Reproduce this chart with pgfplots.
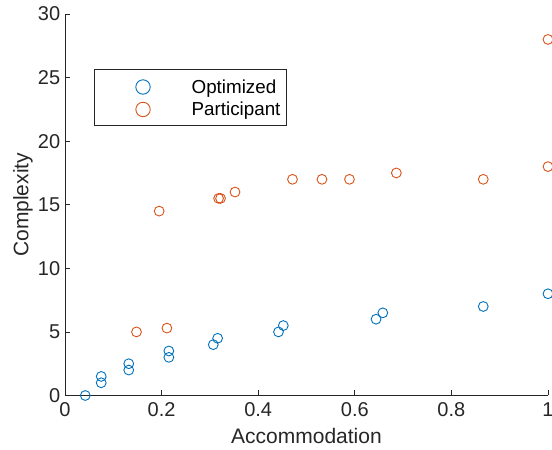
\documentclass[border=0pt]{standalone}
\usepackage{fontspec}
\setmainfont{Liberation Sans}
\usepackage{pgfplots}
\pgfplotsset{compat=1.18}
\definecolor{mblue}{RGB}{0,114,189}
\definecolor{morange}{RGB}{217,83,25}
\definecolor{axgray}{RGB}{38,38,38}
\pgfplotsset{
  mylegend/.style={legend image code/.code={%
    \path[draw=none,fill=none] (0pt,-2.35pt) rectangle (91pt,18.95pt);
    \draw[##1, line width=0.9pt, mark size=7.2pt] plot coordinates {(44.4pt,6.5pt)};}}
}
\begin{document}
\begin{tikzpicture}
\begin{axis}[
  at={(0,0)}, anchor=south west,
  scale only axis, width=483pt, height=381.5pt,
  xmin=0, xmax=1, ymin=0, ymax=30,
  axis x line*=bottom, axis y line*=left,
  axis line style={axgray, line width=0.7pt, -},
  tick align=inside, major tick length=5.5pt,
  tick style={axgray, line width=0.7pt},
  xtick={0,0.2,0.4,0.6,0.8,1}, ytick={0,5,10,15,20,25,30},
  ticklabel style={font=\fontsize{20}{24}\selectfont, text=axgray},
  /pgf/number format/assume math mode=true,
  xticklabel style={yshift=-3.8pt},
  yticklabel style={xshift=-1.3pt},
  xlabel={Accommodation}, ylabel={Complexity},
  label style={font=\fontsize{21}{25}\selectfont, text=axgray},
  xlabel style={at={(axis description cs:0.5,-0.1253)}, anchor=base},
  ylabel style={at={(axis description cs:-0.076,0.5)}, anchor=base},
  clip=false,
  legend style={at={(axis description cs:0.0601,0.8561)}, anchor=north west,
    draw=axgray, line width=0.6pt, inner xsep=4.3pt, inner ysep=5.35pt,
    font=\fontsize{18.8}{22}\selectfont, text=black,
    cells={anchor=base west, inner sep=0pt, text depth=0pt, text height=10pt},
    row sep=0pt, column sep=0pt,
    /tikz/every even column/.style={column sep=0pt}},
]
\addplot[only marks, mark=o, mblue, mark size=4.9pt, line width=0.9pt, mylegend] coordinates {
(0.042,0) (0.075,1.5) (0.075,1) (0.132,2.5) (0.132,2) (0.215,3.5) (0.215,3)
(0.307,4) (0.316,4.5) (0.442,5) (0.452,5.5) (0.644,6) (0.658,6.5) (0.866,7) (1,8)
};
\addlegendentry{Optimized}
\addplot[only marks, mark=o, morange, mark size=4.9pt, line width=0.9pt, mylegend] coordinates {
(0.148,5) (0.211,5.3) (0.195,14.5) (0.318,15.5) (0.322,15.5) (0.352,16) (0.471,17)
(0.532,17) (0.589,17) (0.686,17.5) (0.866,17) (1,18) (1,28)
};
\addlegendentry{Participant}
\end{axis}
\pgfresetboundingbox
\path[use as bounding box] (-65pt,-54.5pt) rectangle (487pt,395.5pt);
\end{tikzpicture}
\end{document}
